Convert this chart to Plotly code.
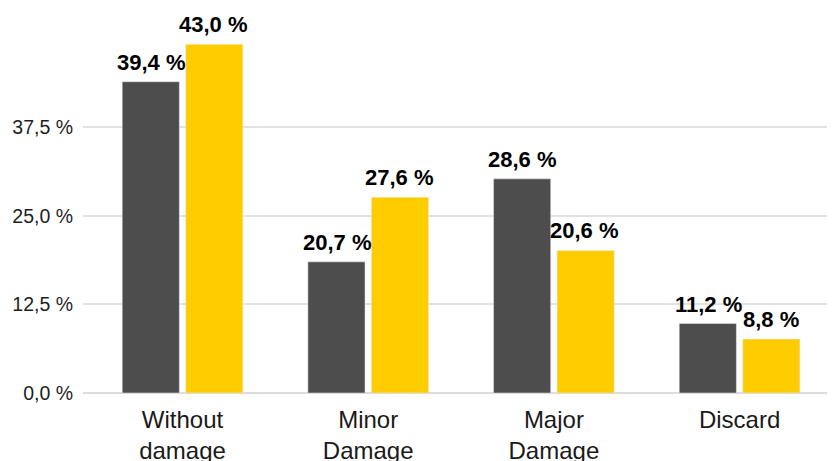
import plotly.graph_objects as go

categories = ["Without<br>damage", "Minor<br>Damage", "Major<br>Damage", "Discard"]
series_a_heights = [43.9, 18.5, 30.2, 9.8]
series_b_heights = [49.2, 27.6, 20.1, 7.6]
series_a_labels = ["39,4 %", "20,7 %", "28,6 %", "11,2 %"]
series_b_labels = ["43,0 %", "27,6 %", "20,6 %", "8,8 %"]
y_tick_vals = [0, 12.5, 25, 37.5]
y_tick_text = ["0,0 %", "12,5 %", "25,0 %", "37,5 %"]

DARK = "#4d4d4d"
YELLOW = "#ffcc00"
FONT = "Liberation Sans, Arial, sans-serif"

x_pos = list(range(len(categories)))

fig = go.Figure()
for heights, color in [(series_a_heights, DARK), (series_b_heights, YELLOW)]:
    fig.add_trace(go.Bar(x=x_pos, y=heights, marker_color=color, showlegend=False,
                         hoverinfo="skip"))

# value labels placed above each bar (offset left/right for grouped bars)
for heights, labels, shift in [(series_a_heights, series_a_labels, -31),
                               (series_b_heights, series_b_labels, 31)]:
    for xi, h, lab in zip(x_pos, heights, labels):
        fig.add_annotation(x=xi, y=h, text=lab, showarrow=False,
                           xshift=shift, yshift=5, yanchor="bottom",
                           font=dict(family=FONT, size=22, color="#000000", weight="bold"))

fig.update_layout(
    width=827, height=453,
    margin=dict(l=75, r=0, t=0, b=68),
    paper_bgcolor="white", plot_bgcolor="white",
    barmode="group", bargap=0.316, bargroupgap=0.1,
    font=dict(family=FONT, color="#222222"),
)
fig.update_xaxes(
    tickvals=x_pos, ticktext=categories,
    range=[-0.536, 3.514], showgrid=False, showline=False, ticks="",
    tickfont=dict(size=24, color="#1a1a1a"), automargin=False,
    ticklabelstandoff=10,
)
fig.update_yaxes(
    range=[0, 54.3], tickvals=y_tick_vals, ticktext=y_tick_text,
    showgrid=True, gridcolor="#e2e2e2", gridwidth=1.5,
    zeroline=True, zerolinecolor="#dcdcdc", zerolinewidth=2,
    showline=False, ticks="", tickfont=dict(size=19.5, color="#1e1e1e"),
    automargin=False, ticklabelstandoff=9,
)

fig.write_html("out.html")
